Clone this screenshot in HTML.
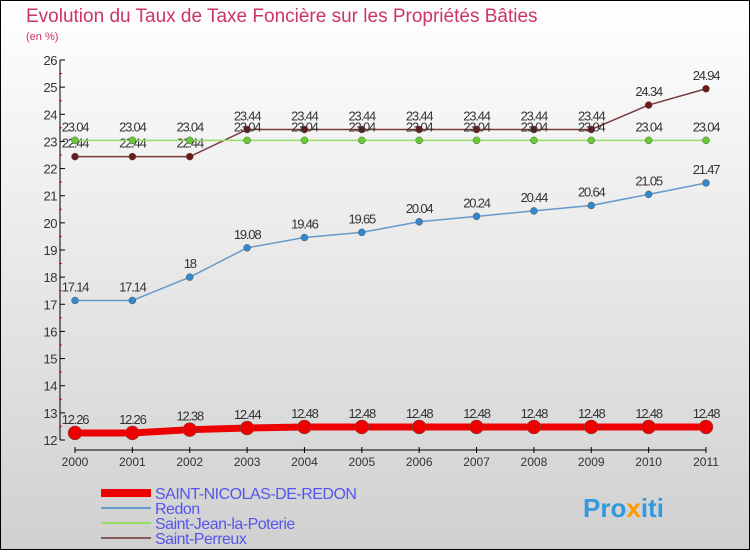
<!DOCTYPE html>
<html><head><meta charset="utf-8"><style>
body{margin:0;width:750px;height:550px;overflow:hidden;font-family:"Liberation Sans",sans-serif}
</style></head><body>
<svg width="750" height="550" xmlns="http://www.w3.org/2000/svg">
<defs><linearGradient id="bg" x1="0" y1="0" x2="0" y2="1"><stop offset="0" stop-color="#ffffff"/><stop offset="1" stop-color="#d0d0d0"/></linearGradient></defs>
<rect x="0.5" y="0.5" width="749" height="549" fill="url(#bg)" stroke="#000"/>
<text x="26" y="22" font-size="19" fill="#cc3366">Evolution du Taux de Taxe Foncière sur les Propriétés Bâties</text>
<text x="26" y="40" font-size="11" fill="#cc3366">(en %)</text>
<g id="axes"></g><g id="series"></g><g id="legend"></g>
<text x="583" y="517" font-size="26" font-weight="bold" fill="#3399dd">Pro<tspan fill="#ff9900">x</tspan>iti</text>
</svg>
<script>
const years=[2000,2001,2002,2003,2004,2005,2006,2007,2008,2009,2010,2011];
const yTicks=[12,13,14,15,16,17,18,19,20,21,22,23,24,25,26];
const names=["SAINT-NICOLAS-DE-REDON","Redon","Saint-Jean-la-Poterie","Saint-Perreux"];
const sNicolas=[12.26,12.26,12.38,12.44,12.48,12.48,12.48,12.48,12.48,12.48,12.48,12.48];
const sRedon=[17.14,17.14,18,19.08,19.46,19.65,20.04,20.24,20.44,20.64,21.05,21.47];
const sJean=[23.04,23.04,23.04,23.04,23.04,23.04,23.04,23.04,23.04,23.04,23.04,23.04];
const sPerreux=[22.44,22.44,22.44,23.44,23.44,23.44,23.44,23.44,23.44,23.44,24.34,24.94];
const NS="http://www.w3.org/2000/svg";
const xS=i=>75+i*(706-75)/(years.length-1);
const yS=v=>440-(v-12)*(380/14);
function mk(t,a,p){const e=document.createElementNS(NS,t);for(const k in a)e.setAttribute(k,a[k]);p.appendChild(e);return e;}
const ax=document.getElementById('axes');
let l=mk('line',{x1:60,y1:60,x2:60,y2:440,stroke:'#000'},ax);


l=mk('line',{x1:75,y1:450,x2:706,y2:450,stroke:'#000'},ax);


yTicks.forEach((v,i)=>{const y=yS(v);
mk('line',{x1:60,y1:y,x2:65,y2:y,stroke:'#000'},ax);
if(i<yTicks.length-1)mk('line',{x1:59,y1:y-13.6,x2:62,y2:y-13.6,stroke:'#e00'},ax);
const t=mk('text',{x:57,y:y+5,'font-size':13,'text-anchor':'end',fill:'#333','letter-spacing':'-0.5'},ax);t.textContent=v;

});
years.forEach((yr,i)=>{const x=xS(i);
mk('line',{x1:x,y1:447,x2:x,y2:453,stroke:'#000'},ax);
const t=mk('text',{x:x,y:466,'font-size':12,'text-anchor':'middle',fill:'#333'},ax);t.textContent=yr;

});
const sg=document.getElementById('series');
const cfg=[[sPerreux,'#7a3a3a','#6b1a1a',1.5,3.5],[sJean,'#99dd66','#66cc33',1.5,3.5],[sRedon,'#6699cc','#3388cc',1.5,3.5],[sNicolas,'#ee0000','#ee0000',7,7]];
const keys=['saint-perreux','saint-jean-la-poterie','redon','saint-nicolas-de-redon'];
cfg.forEach((c,k)=>{const [d,lc,pc,w,r]=c;const g=mk('g',{},sg);


const p=mk('polyline',{points:d.map((v,i)=>xS(i)+','+yS(v)).join(' '),fill:'none',stroke:lc,'stroke-width':w},g);


d.forEach((v,i)=>{const m=mk('circle',{cx:xS(i),cy:yS(v),r:r,fill:pc,stroke:'#555','stroke-width':0.5},g);


const t=mk('text',{x:xS(i),y:yS(v)-9,'font-size':13,'text-anchor':'middle',fill:'#333','letter-spacing':'-1.2'},g);t.textContent=v;

});});
const lg=document.getElementById('legend');
const lcol=['#ee0000','#6699cc','#99dd66','#8a5a5a'],lw=[8,2,2,2];
names.forEach((n,i)=>{const y=493+i*15;
const ln=mk('line',{x1:101,y1:y,x2:151,y2:y,stroke:lcol[i],'stroke-width':lw[i]},lg);


const t=mk('text',{x:155,y:y+6,'font-size':16,fill:'#5555ee','letter-spacing':'-0.5'},lg);t.textContent=n;

});
</script>
</body></html>
